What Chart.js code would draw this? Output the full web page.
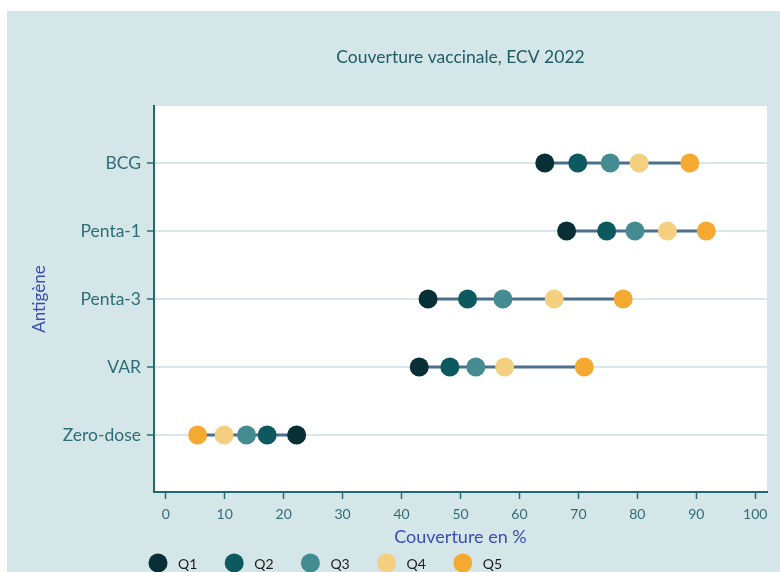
<!DOCTYPE html>
<html>
<head>
<meta charset="utf-8">
<script src="https://cdn.jsdelivr.net/npm/chart.js@4"></script>
<style>
  html, body { margin: 0; padding: 0; background: #ffffff; }
  #wrap { position: absolute; left: 7px; top: 11px; width: 773px; height: 561px; }
  canvas { display: block; }
</style>
</head>
<body>
<div id="wrap"><canvas id="c" width="773" height="561"></canvas></div>
<script>
// ---- data ----
const categories = ['BCG', 'Penta-1', 'Penta-3', 'VAR', 'Zero-dose'];
const q1 = [64.3, 68.0, 44.5, 43.0, 22.2];
const q2 = [69.9, 74.8, 51.2, 48.2, 17.2];
const q3 = [75.4, 79.6, 57.2, 52.6, 13.7];
const q4 = [80.3, 85.1, 65.9, 57.5, 9.9];
const q5 = [88.9, 91.7, 77.6, 71.0, 5.4];
const seriesNames = ['Q1', 'Q2', 'Q3', 'Q4', 'Q5'];
const xTickValues = [0, 10, 20, 30, 40, 50, 60, 70, 80, 90, 100];
const titleText = 'Couverture vaccinale, ECV 2022';
const xTitle = 'Couverture en %';
const yTitle = 'Antigène';

// ---- styles ----
const seriesColors = ['#072f35', '#0c5960', '#448b92', '#f5cf80', '#f4aa30'];
const series = [q1, q2, q3, q4, q5];

Chart.defaults.font.family = 'Lato';

const rangeDatasets = categories.map((c, i) => {
  const vals = series.map(s => s[i]);
  return {
    type: 'line',
    label: '',
    isRange: true,
    data: [{ x: Math.min(...vals), y: i }, { x: Math.max(...vals), y: i }],
    borderColor: '#4b6f8c',
    borderWidth: 3,
    pointRadius: 0,
    showLine: true,
    order: 10
  };
});

const pointDatasets = series.map((s, k) => ({
  type: 'scatter',
  label: seriesNames[k],
  data: s.map((v, i) => ({ x: v, y: i })),
  backgroundColor: seriesColors[k],
  borderWidth: 0,
  pointRadius: 9.5,
  pointHoverRadius: 9.5,
  order: 5 - k
}));

const bgPlugin = {
  id: 'bg',
  beforeDraw(chart) {
    const { ctx, chartArea: a } = chart;
    ctx.save();
    ctx.fillStyle = '#d5e6e9';
    ctx.fillRect(0, 0, chart.width, chart.height);
    ctx.fillStyle = '#ffffff';
    ctx.fillRect(a.left, a.top, a.right - a.left, a.bottom - a.top);
    ctx.restore();
  }
};

const legendPlugin = {
  id: 'customLegend',
  afterDraw(chart) {
    const { ctx, chartArea: a } = chart;
    const y = chart.height - 9;
    ctx.save();
    ctx.font = '14px Lato';
    ctx.textBaseline = 'middle';
    ctx.textAlign = 'left';
    chart.data.datasets.filter(d => !d.isRange).forEach((d, k) => {
      const cx = a.left + 4 + k * 76.2;
      ctx.beginPath();
      ctx.arc(cx, y, 9.5, 0, Math.PI * 2);
      ctx.fillStyle = d.backgroundColor;
      ctx.fill();
      ctx.fillStyle = '#1c1c1c';
      ctx.fillText(d.label, cx + 20, y + 1);
    });
    ctx.restore();
  }
};

new Chart(document.getElementById('c'), {
  type: 'scatter',
  data: { datasets: [...pointDatasets, ...rangeDatasets] },
  options: {
    responsive: false,
    animation: false,
    events: [],
    layout: { padding: { left: 0, right: 13, top: 0, bottom: 0 } },
    plugins: {
      legend: { display: false },
      tooltip: { enabled: false },
      title: {
        display: true,
        fullSize: false,
        text: titleText,
        color: '#1e5c64',
        font: { size: 17.5, weight: 'normal' },
        padding: { top: 35.5, bottom: 38.5 }
      }
    },
    scales: {
      x: {
        type: 'linear',
        min: -2,
        max: 102,
        afterFit(s) { s.height = 80; },
        afterBuildTicks(s) { s.ticks = xTickValues.map(v => ({ value: v })); },
        ticks: { color: '#2e6d75', font: { size: 14 }, padding: 7 },
        grid: { drawOnChartArea: false, drawTicks: true, tickLength: 7, tickColor: '#2b6c74', tickWidth: 1.5 },
        border: { display: true, color: '#1f6a72', width: 2 },
        title: {
          display: true,
          text: xTitle,
          color: '#3a4db3',
          font: { size: 18 },
          padding: { top: 0, bottom: 24.2 }
        }
      },
      y: {
        type: 'linear',
        reverse: true,
        min: -0.84,
        max: 4.84,
        afterFit(s) { s.width = 147; },
        afterBuildTicks(s) { s.ticks = categories.map((c, i) => ({ value: i })); },
        ticks: {
          color: '#2e6d75',
          font: { size: 17.5 },
          padding: 6,
          callback: (v) => categories[v]
        },
        grid: { drawOnChartArea: true, color: '#d8e7eb', lineWidth: 2, drawTicks: true, tickLength: 7, tickColor: '#2b6c74', tickWidth: 1.5 },
        border: { display: true, color: '#1f6a72', width: 2 },
        title: {
          display: true,
          text: yTitle,
          color: '#3a4db3',
          font: { size: 17 },
          padding: { top: 22.8, bottom: 0 }
        }
      }
    }
  },
  plugins: [bgPlugin, legendPlugin]
});
</script>
</body>
</html>
